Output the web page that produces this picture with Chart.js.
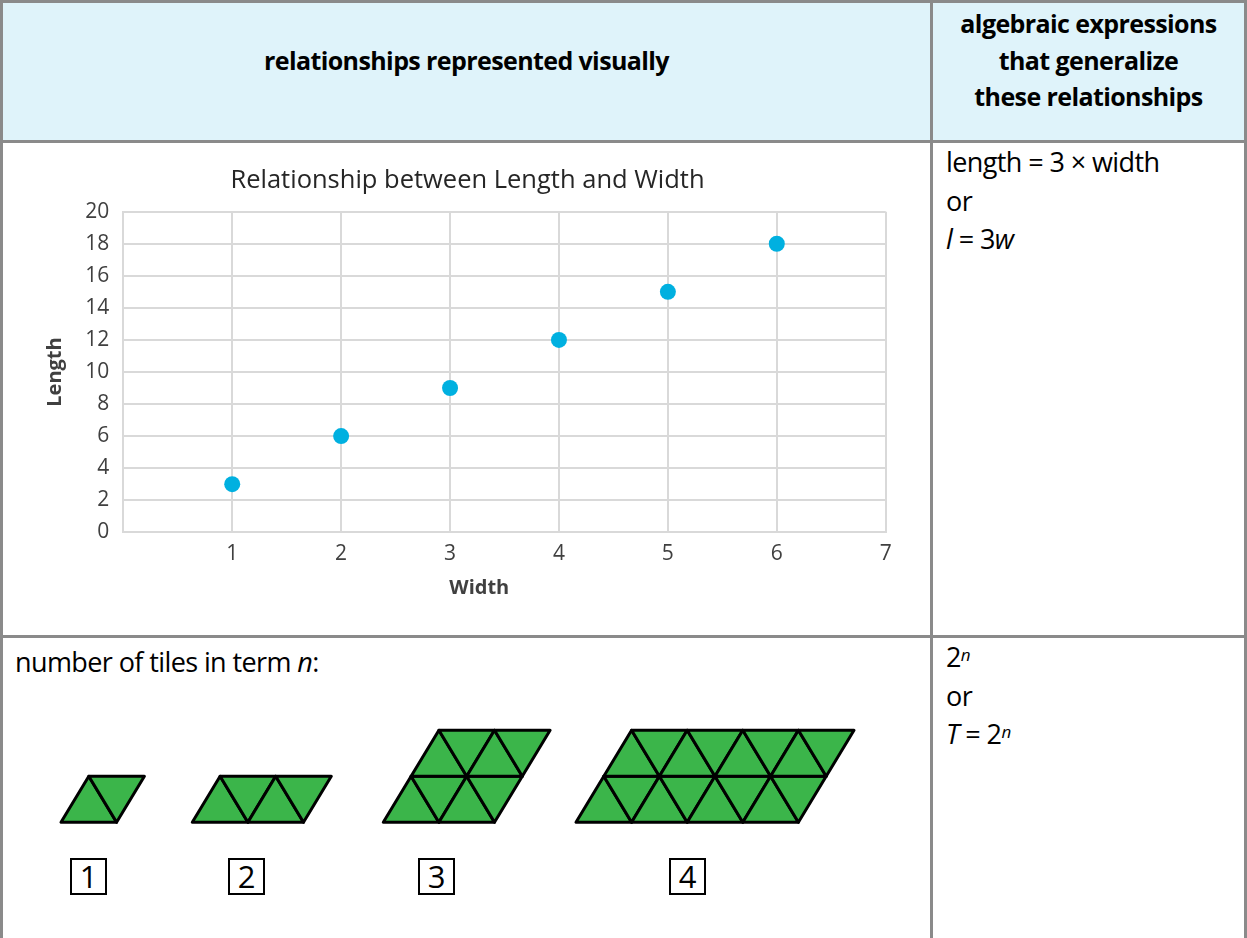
<!DOCTYPE html>
<html>
<head>
<meta charset="utf-8">
<title>relationships represented visually</title>
<script src="https://cdn.jsdelivr.net/npm/chart.js@4.4.0/dist/chart.umd.min.js"></script>
<style>
body { margin: 0; background: #fff; font-family: "Open Sans", sans-serif; color: #000; }
#page { position: relative; width: 1247px; height: 938px; background: #8a8a8a; overflow: hidden; }
.cell { position: absolute; background: #fff; }
.head { background: #dff3fa; }
.txt { position: absolute; font-size: 27px; line-height: 38.5px; letter-spacing: -0.6px; white-space: nowrap; }
.bold { font-weight: bold; font-size: 25px; text-align: center; }
.sup { font-size: 17px; font-style: italic; vertical-align: 6px; line-height: 0; }
.num { position: absolute; top: 858px; width: 37px; height: 37px; box-sizing: border-box; border: 2px solid #000;
       text-align: center; font-size: 31px; line-height: 33px; background: #fff; }
#chartBox { position: absolute; left: 3px; top: 143px; width: 927px; height: 492px; }
#tiles { position: absolute; left: 0; top: 700px; }
</style>
</head>
<body>
<div id="page">
  <div class="cell head" style="left:3px;top:3px;width:927px;height:137px"></div>
  <div class="cell head" style="left:933px;top:3px;width:311px;height:137px"></div>
  <div class="cell" style="left:3px;top:143px;width:927px;height:492px"></div>
  <div class="cell" style="left:933px;top:143px;width:311px;height:492px"></div>
  <div class="cell" style="left:3px;top:638px;width:927px;height:300px"></div>
  <div class="cell" style="left:933px;top:638px;width:311px;height:300px"></div>

  <div class="txt bold" style="left:3px;width:927px;top:45px;line-height:30px">relationships represented visually</div>
  <div class="txt bold" style="left:933px;width:311px;top:5px;line-height:36.5px">algebraic expressions<br>that generalize<br>these relationships</div>

  <div id="chartBox"><canvas id="chart"></canvas></div>

  <div class="txt" style="left:946px;top:143px">length = 3 × width<br>or<br><i>l</i> = 3<i>w</i></div>

  <div class="txt" style="left:15px;top:643px">number of tiles in term <i>n</i>:</div>
  <div class="txt" style="left:946px;top:638px">2<span class="sup">n</span><br>or<br><i>T</i> = 2<span class="sup">n</span></div>

  <canvas id="tiles" width="930" height="140"></canvas>
  <div class="num" style="left:70px">1</div>
  <div class="num" style="left:228px">2</div>
  <div class="num" style="left:418px">3</div>
  <div class="num" style="left:669px">4</div>
</div>

<script>
// scatter data: length = 3 x width
var widths = [1, 2, 3, 4, 5, 6];
var lengths = [3, 6, 9, 12, 15, 18];
var chartTitle = "Relationship between Length and Width";
var xTitle = "Width";
var yTitle = "Length";

// tile pattern: 2^n triangles per term
var terms = [1, 2, 3, 4];
var tileCounts = [2, 4, 8, 16];
var tileRows = [1, 1, 2, 2];

Chart.defaults.font.family = "'Open Sans', sans-serif";

var points = widths.map(function (w, i) { return { x: w, y: lengths[i] }; });

// x axis title sits a bit left of the plot centre, like the original
var xTitlePlugin = {
    id: 'xTitle',
    afterDraw: function (chart) {
        var c = chart.ctx, a = chart.chartArea;
        c.save();
        c.font = "bold 20px 'Open Sans', sans-serif";
        c.fillStyle = "#404040";
        c.textAlign = "center";
        c.textBaseline = "middle";
        c.fillText(xTitle, a.left + 356, a.bottom + 56);
        c.restore();
    }
};

var ctx = document.getElementById("chart").getContext("2d");
var chartScatter = new Chart(ctx, {
    type: 'scatter',
    data: {
        datasets: [{
            label: yTitle,
            data: points,
            backgroundColor: "#00b0e0",
            borderColor: "#00b0e0",
            pointRadius: 8,
            pointBorderWidth: 0
        }]
    },
    options: {
        animation: false,
        responsive: true,
        maintainAspectRatio: false,
        layout: { padding: { left: 46.3, right: 44.3, top: 0, bottom: 0 } },
        plugins: {
            legend: { display: false },
            tooltip: { enabled: false },
            title: {
                display: true,
                text: chartTitle,
                color: "#262626",
                font: { size: 25.5, weight: 500 },
                padding: { top: 22, bottom: 16.1 }
            }
        },
        scales: {
            x: {
                type: 'linear',
                min: 0,
                max: 7,
                afterFit: function (scale) { scale.height = 102.7; },
                ticks: {
                    stepSize: 1,
                    padding: 9,
                    color: "#404040",
                    font: { size: 21 },
                    callback: function (v) { return v === 0 ? '' : v; }
                },
                grid: { color: "#d9d9d9", lineWidth: 2, drawTicks: false },
                border: { color: "#d9d9d9", width: 2 },
                title: { display: false }
            },
            y: {
                min: 0,
                max: 20,
                afterFit: function (scale) { scale.width = 74; },
                ticks: { stepSize: 2, padding: 14, color: "#404040", font: { size: 21 } },
                grid: { color: "#d9d9d9", lineWidth: 2, drawTicks: false },
                border: { color: "#d9d9d9", width: 2 },
                title: {
                    display: true,
                    text: yTitle,
                    color: "#404040",
                    font: { size: 20, weight: 'bold' },
                    padding: { top: -6.3, bottom: 0 }
                }
            }
        }
    },
    plugins: [xTitlePlugin]
});

// triangle tiles, two per unit of each row
var tc = document.getElementById("tiles").getContext("2d");
var figLeft = [61, 192.3, 383.3, 576];
var baseY = 122.3, unit = 55.6, rowH = 46, slant = unit / 2;

function tri(a, b, c) {
    tc.beginPath();
    tc.moveTo(a[0], a[1]);
    tc.lineTo(b[0], b[1]);
    tc.lineTo(c[0], c[1]);
    tc.closePath();
    tc.fill();
    tc.stroke();
}

tc.fillStyle = "#3bb54a";
tc.strokeStyle = "#000";
tc.lineWidth = 3;
tc.lineJoin = "round";
terms.forEach(function (t, i) {
    var rows = tileRows[i];
    var cols = tileCounts[i] / (2 * rows);
    for (var r = 0; r < rows; r++) {
        var xl = figLeft[i] + r * slant;
        var yb = baseY - r * rowH;
        var yt = yb - rowH;
        for (var j = 0; j < cols; j++) {
            tri([xl + j * unit, yb], [xl + (j + 1) * unit, yb], [xl + j * unit + slant, yt]);
            tri([xl + j * unit + slant, yt], [xl + (j + 1) * unit + slant, yt], [xl + (j + 1) * unit, yb]);
        }
    }
});
</script>
</body>
</html>
